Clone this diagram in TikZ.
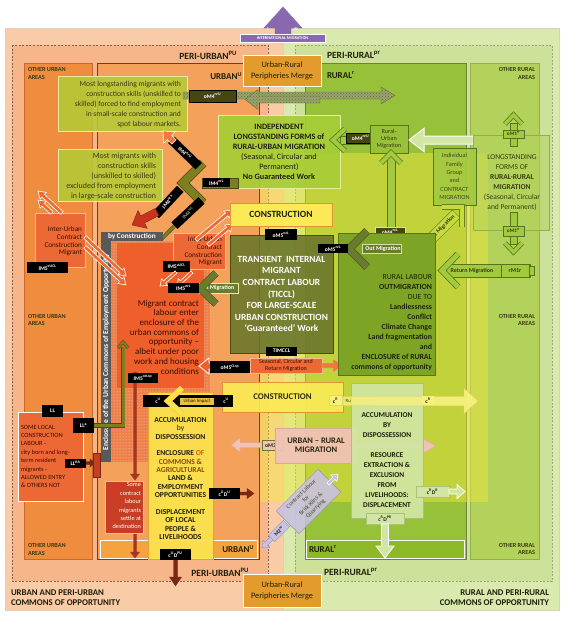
\documentclass[tikz,border=0pt]{standalone}
\usepackage{fontspec}
\setmainfont{Carlito}
\usetikzlibrary{patterns}
\definecolor{cOutU}{HTML}{F9CCA7}
\definecolor{cOutR}{HTML}{DAE9AE}
\definecolor{cEdge}{HTML}{D8D0C8}
\definecolor{cPeriU}{HTML}{F6B68A}
\definecolor{cPeriR}{HTML}{CDE19A}
\definecolor{cBrD}{HTML}{8A6048}
\definecolor{cGrD}{HTML}{98A878}
\definecolor{cOthU}{HTML}{EF8C3E}
\definecolor{cOthUd}{HTML}{C8682A}
\definecolor{cUrb}{HTML}{F4A15C}
\definecolor{cUrbD}{HTML}{5A4538}
\definecolor{cUrbB}{HTML}{F5A33E}
\definecolor{cRur}{HTML}{98C13A}
\definecolor{cRurD}{HTML}{6A8430}
\definecolor{cRurB}{HTML}{8DB828}
\definecolor{cOthR}{HTML}{B3D25C}
\definecolor{cOthRd}{HTML}{93B048}
\definecolor{cYov}{HTML}{F4E83A}
\definecolor{cGB}{HTML}{B6CA36}
\definecolor{cGBd}{HTML}{E4EE9C}
\definecolor{cIndep}{HTML}{A6CD36}
\definecolor{cTxtG}{HTML}{3A3A12}
\definecolor{cTxtD}{HTML}{1E1E0A}
\definecolor{cDark}{HTML}{46460F}
\definecolor{cHat}{HTML}{98A26A}
\definecolor{cHatD}{HTML}{687240}
\definecolor{cOlive}{HTML}{7C7E20}
\definecolor{cOliveD}{HTML}{4A4C10}
\definecolor{cOlive3}{HTML}{6A7A2E}
\definecolor{cTic}{HTML}{6B772C}
\definecolor{cCons}{HTML}{FBEA55}
\definecolor{cConsD}{HTML}{E39235}
\definecolor{cRed}{HTML}{EE5F2C}
\definecolor{cTxtR}{HTML}{3A0E00}
\definecolor{cOrB}{HTML}{EC6935}
\definecolor{cOrBd}{HTML}{F8B898}
\definecolor{cOrHd}{HTML}{F07838}
\definecolor{cRedHd}{HTML}{C83420}
\definecolor{cDR}{HTML}{7A2810}
\definecolor{cDR2}{HTML}{A83520}
\definecolor{cBar}{HTML}{C83E24}
\definecolor{cYel}{HTML}{FBE24C}
\definecolor{cYelD}{HTML}{E8A033}
\definecolor{cYelS}{HTML}{E8C040}
\definecolor{cOrT}{HTML}{D06010}
\definecolor{cBrT}{HTML}{8A4A10}
\definecolor{cRG}{HTML}{7DA424}
\definecolor{cRGd}{HTML}{56741A}
\definecolor{cRGt}{HTML}{1E2406}
\definecolor{cPink}{HTML}{F0C3B5}
\definecolor{cPinkD}{HTML}{D8A898}
\definecolor{cLG}{HTML}{D2E5A4}
\definecolor{cLGd}{HTML}{A8C27A}
\definecolor{cLav}{HTML}{C9C2E0}
\definecolor{cLavD}{HTML}{9890B8}
\definecolor{cPurp}{HTML}{8868AE}
\definecolor{cMerge}{HTML}{E39B2E}
\definecolor{cGray}{HTML}{5A5858}
\definecolor{cDot}{HTML}{F08048}
\definecolor{cDotC}{HTML}{C8DCF0}
\definecolor{cYG}{HTML}{C6DC42}
\definecolor{cYGd}{HTML}{6C7E22}
\definecolor{cLY}{HTML}{F6F07C}
\definecolor{cLYd}{HTML}{E0D860}
\definecolor{cRM}{HTML}{A2CA40}
\newcommand{\spx}[1]{\textsuperscript{#1}}
\newcommand{\fs}[2]{\fontsize{#1}{#2}\selectfont}
% block arrow: [style]{x1}{y1}{x2}{y2}{shaft half}{head half}{head length}
\newcommand{\barrow}[8][]{%
  \pgfmathsetmacro\bdx{#4-#2}%
  \pgfmathsetmacro\bndy{#3-#5}%
  \pgfmathsetmacro\blen{veclen(\bdx,\bndy)}%
  \pgfmathsetmacro\bang{atan2(\bndy,\bdx)}%
  \pgfmathsetmacro\bhb{\blen-#8}%
  \begin{scope}[shift={(#2,#3)},rotate=\bang]
    \draw[#1] (0,-#6) -- ({\bhb},-#6) -- ({\bhb},-#7) -- ({\blen},0) -- ({\bhb},#7) -- ({\bhb},#6) -- (0,#6) -- cycle;
  \end{scope}}
% chevron head: {fill}{outline}{w}{outer w}{p1}{tip}{p2}
\newcommand{\chev}[7]{%
  \draw[#2,line width=#4,line join=miter] #5 -- #6 -- #7;
  \draw[#1,line width=#3,line join=miter] #5 -- #6 -- #7;}
\tikzset{
  box/.style={inner sep=0pt,outer sep=0pt},
  tx/.style={inner sep=0pt,outer sep=0pt},
  blk/.style={fill=black,text=white,inner sep=0pt,outer sep=0pt,font=\fs{5.6}{6}\bfseries},
  area/.style={tx,align=left,font=\fs{6.2}{7.5}\bfseries,text=cTxtG},
  hollowO/.style={fill=cOrB,draw=white,line width=0.6pt},
  hatchA/.style={fill=cHat,draw=cHatD},
  hatchP/.style={pattern=crosshatch dots,pattern color=cHatD,draw=none},
}
\begin{document}
\begin{tikzpicture}[x=1pt,y=-1pt]
\useasboundingbox (0,0) rectangle (566,629);
\fill[white] (0,0) rectangle (566,629);
%--- regions
\filldraw[fill=cOutU,draw=cEdge] (5,28) rectangle (283,610);
\filldraw[fill=cOutR,draw=cEdge] (283,28) rectangle (559,610);
\filldraw[fill=cPeriU,draw=cBrD,dash pattern=on 2pt off 1.5pt] (12,45) rectangle (268,581);
\filldraw[fill=cPeriR,draw=cGrD,dash pattern=on 2pt off 1.5pt] (295,45) rectangle (552,581);
\filldraw[fill=cOthU,draw=cOthUd] (24,63) rectangle (92,559);
\filldraw[fill=cUrb,draw=cUrbD,line width=0.8pt] (97,63) rectangle (259,559);
\filldraw[fill=cRur,draw=cRurD] (305,63) rectangle (466,559);
\filldraw[fill=cOthR,draw=cOthRd] (470,63) rectangle (539,559);
\fill[cYov,opacity=0.45] (259,153) rectangle (488,502);
\draw[cUrbD,line width=0.8pt] (259,63) -- (259,559);
\filldraw[fill=cUrbB,draw=white,line width=0.8pt] (100,540) rectangle (257,558);
\filldraw[fill=cRurB,draw=white,line width=0.8pt] (306,540) rectangle (464,558);
%--- region labels
\node[tx,anchor=east,font=\fs{9.5}{10}\bfseries,text=cTxtD] (lpu) at (237,55) {PERI-URBAN\spx{PU}};
\node[tx,anchor=east,font=\fs{9}{10}\bfseries,text=cTxtD] (lu) at (242,76) {URBAN\spx{U}};
\node[tx,anchor=west,font=\fs{9.5}{10}\bfseries,text=cTxtD] (lpr) at (327,55) {PERI-RURAL\spx{pr}};
\node[tx,anchor=west,font=\fs{9}{10}\bfseries,text=cTxtD] (lr) at (327,75) {RURAL\spx{r}};
\node[tx,anchor=east,font=\fs{9}{10}\bfseries,text=cTxtD] (lu2) at (254,549) {URBAN\spx{U}};
\node[tx,anchor=west,font=\fs{9}{10}\bfseries,text=cTxtD] (lr2) at (309,549) {RURAL\spx{r}};
\node[tx,anchor=east,font=\fs{9.5}{10}\bfseries,text=cTxtD] (lpu2) at (249,572) {PERI-URBAN\spx{PU}};
\node[tx,anchor=west,font=\fs{9.5}{10}\bfseries,text=cTxtD] (lpr2) at (324,572) {PERI-RURAL\spx{pr}};
\node[tx,anchor=west,align=left,font=\fs{8.8}{10}\bfseries,text=cTxtD] (cu) at (11,598) {URBAN AND PERI-URBAN\\COMMONS OF OPPORTUNITY};
\node[tx,anchor=east,align=right,font=\fs{8.8}{10}\bfseries,text=cTxtD] (cr) at (549,598) {RURAL AND PERI-RURAL\\COMMONS OF OPPORTUNITY};
\node[area,anchor=west] (ou1) at (28,73.5) {OTHER URBAN\\AREAS};
\node[area,anchor=west] (ou2) at (28,320) {OTHER URBAN\\AREAS};
\node[area,anchor=west] (ou3) at (28,549.5) {OTHER URBAN\\AREAS};
\node[area,anchor=east,align=right] (or1) at (535,73.5) {OTHER RURAL\\AREAS};
\node[area,anchor=east,align=right] (or2) at (535,320) {OTHER RURAL\\AREAS};
\node[area,anchor=east,align=right] (or3) at (535,549) {OTHER RURAL\\AREAS};
%--- international migration
\barrow[fill=cPurp,draw=cPurp]{283}{36}{283}{7}{8}{19}{21}
\node[box,fill=cPurp,draw=white,line width=0.5pt,minimum width=85,minimum height=8,text=white,font=\fs{4.3}{5}\bfseries] (intl) at (282.5,38.5) {INTERNATIONAL MIGRATION};
\node[tx,text=white,font=\fs{4.5}{5}\bfseries] (ii) at (268,29) {I};
\node[tx,text=white,font=\fs{4.5}{5}\bfseries] (nn) at (296,29) {N};
%--- green boxes top left
\node[box,fill=cGB,fill opacity=0.88,draw=cGBd,minimum width=129,minimum height=55] (g1) at (122.5,103.5) {};
\node[tx,anchor=east,align=right,font=\fs{7.6}{10},text=cTxtG] (g1t) at (181,104) {Most longstanding migrants with\\construction skills (unskilled to\\skilled) forced to find employment\\in small-scale construction and\\spot labour markets.};
\node[box,fill=cGB,fill opacity=0.88,draw=cGBd,minimum width=104,minimum height=52] (g2) at (110,175) {};
\node[tx,anchor=east,align=right,font=\fs{8}{9.8},text=cTxtG] (g2t) at (156,176.5) {Most migrants with\\construction skills\\(unskilled to skilled)\\excluded from employment\\in large-scale construction};
%--- double big hatched arrow
\barrow[hatchA]{183}{95.5}{395}{95.5}{3.5}{8.5}{14}
\barrow[hatchP]{183}{95.5}{395}{95.5}{3.5}{8.5}{14}
\barrow[hatchA]{320}{99.5}{245}{99.5}{3.5}{10}{13}
\barrow[hatchP]{320}{99.5}{245}{99.5}{3.5}{10}{13}
\node[blk,fill=cDark,draw=black,minimum width=47,minimum height=12] (om4u) at (212.5,96) {oM4\spx{nrU}};
%--- independent box
\node[box,fill=cIndep,fill opacity=0.92,draw=cGBd,minimum width=122,minimum height=73] (indep) at (279,151.5) {};
\node[tx,align=center,font=\fs{8.2}{10}\bfseries,text=cTxtD] (indept) at (279,152) {INDEPENDENT\\LONGSTANDING FORMS of\\RURAL-URBAN MIGRATION\\{\mdseries (Seasonal, Circular and}\\{\mdseries Permanent)}\\No Guaranteed Work};
%--- IM4 arrow and rods
\fill[cOlive,draw=cOliveD] (202,178) rectangle (238,188);
\chev{cOlive}{cOliveD}{8}{9.5}{(203,163)}{(183,183)}{(203,203)}
\node[blk,minimum width=27,minimum height=9] (im4l) at (216.5,182.5) {IM4\spx{nrL}};
\barrow[fill=cOlive,draw=cOliveD,line width=0.4pt]{200}{200}{138}{263}{1.6}{6}{10}
\node[blk,rotate=-44,minimum width=38,minimum height=9] (rodA) at (185,153) {IM4\spx{nrU}};
\barrow[fill=cOrHd,draw=white,line width=0.6pt]{174}{142}{163}{131}{3}{8}{9}
\node[blk,rotate=47,minimum width=36,minimum height=9] (rodB) at (168,202) {IM4\spx{nrx}};
\barrow[fill=cRedHd,draw=cDR]{157}{212}{132}{225}{4}{10}{12}
\node[blk,rotate=43,minimum width=37,minimum height=9,text=cHat] (rodC) at (188,213) {IM4\spx{nrL}};
%--- dotted enclosure area, strip, header
\fill[cDot] (111,241) rectangle (210,462);
\fill[pattern=dots,pattern color=cDotC] (111,241) rectangle (210,462);
\node[box,fill=cGray,minimum width=10,minimum height=221,anchor=north west] (strip) at (101,241) {};
\node[tx,rotate=90,text=white,font=\fs{7.6}{8}\bfseries] (stript) at (106,352) {Enclosure of the Urban Commons of Employment Opportunity};
\node[box,fill=cGray,minimum width=62,minimum height=9,anchor=north west] (bycons) at (101,232) {};
\node[tx,anchor=west,text=white,font=\fs{7.3}{8}\bfseries] (byconst) at (108,236.5) {by Construction};
%--- migrant contract box
\node[box,fill=cRed,minimum width=87,minimum height=145] (mig) at (160.5,315.5) {};
\node[tx,anchor=east,align=right,font=\fs{9}{9.7},text=cTxtR] (migt) at (199,337) {Migrant contract\\labour enter\\enclosure of the\\urban commons of\\opportunity --\\albeit under poor\\work and housing\\conditions};
%--- inter-urban
\node[box,fill=cOrB,draw=cOrBd,minimum width=50,minimum height=54] (inter) at (60,240) {};
\node[tx,anchor=east,align=right,font=\fs{7.2}{7.6},text=cTxtR] (intert) at (82,241.5) {Inter-Urban\\Contract\\Construction\\Migrant};
\node[blk,minimum width=41,minimum height=11] (im5e) at (47.5,267.5) {IM5\spx{eUCL}};
\barrow[hollowO]{62}{213}{38}{191}{1.8}{4.5}{7}
\barrow[hollowO]{52}{213}{38}{200}{1.8}{4.5}{7}
\barrow[hollowO]{85}{237}{126}{276}{1.8}{4.5}{7}
\barrow[hollowO]{85}{247}{126}{285}{1.8}{4.5}{7}
%--- intra-urban
\node[box,fill=cOrB,draw=cOrBd,minimum width=52,minimum height=36] (intra) at (199,251) {};
\node[tx,anchor=east,align=right,font=\fs{7.2}{7.6},text=cTxtR] (intrat) at (222,251.5) {Intra-Urban\\Contract\\Construction\\Migrant};
\barrow[hollowO]{196}{240}{232}{210}{1.8}{4.5}{7}
\barrow[hollowO]{208}{245}{233}{224}{1.8}{4.5}{7}
\node[blk,minimum width=27,minimum height=11] (im5a) at (176.5,266) {IM5\spx{aUCL}};
\barrow[hollowO]{176}{272}{160}{286}{1.5}{4.5}{6}
\barrow[hollowO]{192}{272}{177}{286}{1.5}{4.5}{6}
%--- construction top
\node[box,fill=cCons,draw=cConsD,minimum width=102,minimum height=23,font=\fs{9.5}{10}\bfseries,text=cTxtD] (cons1) at (281,214.5) {CONSTRUCTION};
%--- TICCL
\node[box,fill=cTic,fill opacity=0.9,draw=cOliveD,minimum width=103,minimum height=118] (ticcl) at (281.5,294) {};
\node[tx,align=center,font=\fs{9.4}{11.6}\bfseries,text=white] (ticclt) at (281.5,294) {TRANSIENT\ \ INTERNAL\\MIGRANT\\CONTRACT LABOUR\\(TICCL)\\FOR LARGE-SCALE\\URBAN CONSTRUCTION\\‘Guaranteed’ Work};
\node[blk,minimum width=32,minimum height=11] (om5n) at (281,234.5) {oM5\spx{ncL}};
\node[blk,minimum width=31,minimum height=9] (timccl) at (281.5,351) {TIMCCL};
%--- In migration
\fill[cOlive3,draw=cGBd,line width=0.4pt] (199,283.5) rectangle (238,293);
\node[tx,text=white,font=\fs{6}{6}\bfseries] (inmt) at (219,288.3) {In Migration};
\chev{cOlive3}{cOliveD}{6.5}{7.5}{(216,273)}{(200,288.5)}{(216,304)}
\node[blk,minimum width=31,minimum height=10] (im5n) at (183.5,287.5) {IM5\spx{nrL}};
%--- seasonal arrow
\node[box,fill=cOrB,draw=cOrBd,minimum width=72,minimum height=15,align=center,font=\fs{6}{6.4},text=cTxtR] (seas) at (286,365.5) {Seasonal, Circular and\\Return Migration};
\barrow[fill=cOrHd,draw=cOrBd,line width=0.4pt]{322}{365.5}{343}{365.5}{2.5}{7}{10}
\barrow[fill=cRed,draw=white,line width=0.8pt]{216}{366}{199}{366}{3}{8}{10}
\node[blk,minimum width=40,minimum height=12] (om5c) at (230,367) {oM5\spx{CLsp}};
%--- construction 2
\node[box,fill=cCons,fill opacity=0.92,draw=cConsD,minimum width=121,minimum height=30,font=\fs{8.8}{10}\bfseries,text=cTxtD] (cons2) at (282.5,397) {CONSTRUCTION};
%--- yellow accumulation box (urban)
\node[box,fill=cYel,fill opacity=0.94,draw=cYelD,minimum width=65,minimum height=167] (accu) at (180.5,475.5) {};
\node[tx,align=center,font=\fs{7.6}{8.36}\bfseries,text=cTxtD] (accut) at (180.5,478.5) {ACCUMULATION\\{\mdseries by}\\DISPOSSESSION\\[8.36pt]ENCLOSURE {\color{cOrT}OF}\\{\color{cBrT}COMMONS \&}\\{\color{cBrT}AGRICULTURAL}\\LAND \&\\EMPLOYMENT\\OPPORTUNITIES\\[8.36pt]DISPLACEMENT\\OF LOCAL\\PEOPLE \&\\LIVELIHOODS};
%--- urban impact
\node[box,fill=black,minimum width=90,minimum height=12] (uimp) at (188,401) {};
\fill[cYelS] (180,397.5) rectangle (214,404.5);
\node[tx,font=\fs{4.8}{5},text=cTxtR] (uimpt) at (197,401) {Urban Impact};
\chev{cYel}{cYelS}{5}{6}{(182,388)}{(168,401)}{(182,414)}
\node[tx,text=white,font=\fs{5.6}{6}\bfseries] (cu1) at (158,401) {c\spx{U}};
\node[tx,text=white,font=\fs{5.6}{6}\bfseries] (cu2) at (226,401) {c\spx{U}};
%--- cUDU boxes
\node[blk,minimum width=31,minimum height=11] (cudu) at (224.5,493.5) {c\spx{U}D\spx{U}};
\barrow[fill=cDR,draw=cDR]{240}{493.5}{254}{493.5}{1.5}{5}{7}
\node[blk,minimum width=31,minimum height=11] (cudpu) at (175.5,554.5) {c\spx{U}D\spx{PU}};
\barrow[fill=cDR,draw=cDR]{175.5}{560}{175.5}{586}{2}{6}{9}
%--- settle
\barrow[fill=cDR2,draw=cDR2]{135}{372}{135}{480}{1.3}{4.5}{6}
\barrow[fill=cDR2,draw=cDR2]{135}{533}{135}{558}{1.3}{4.5}{6}
\node[blk,minimum width=30,minimum height=10] (im5sp) at (143,378) {IM5\spx{nrLsp}};
\node[box,fill=cBar,draw=cOrBd,minimum width=38,minimum height=52] (settle) at (124,507) {};
\node[tx,anchor=east,align=right,font=\fs{6.2}{8.4},text=white] (settlet) at (141,506) {Some\\contract\\labour\\migrants\\settle at\\destination};
%--- local labour
\node[box,fill=cOrB,draw=white,line width=0.6pt,minimum width=65,minimum height=89] (local) at (50.5,456.5) {};
\node[tx,anchor=west,align=left,font=\fs{6.4}{8.4},text=cTxtR] (localt) at (21,456.5) {SOME LOCAL\\CONSTRUCTION\\LABOUR -\\city born and long-\\term resident\\migrants -\\ALLOWED ENTRY\\\& OTHERS NOT};
\node[blk,minimum width=21,minimum height=12] (ll) at (52.5,411) {LL};
\draw[cOliveD,line width=4.5pt] (94,425.5) -| (123,347);
\draw[cOlive,line width=3pt] (94,425.5) -| (123,347);
\chev{cOlive}{cOliveD}{2}{3}{(118,348)}{(123,342)}{(128,348)}
\node[blk,minimum width=21,minimum height=15] (lla) at (83.5,425.5) {LL\spx{a}};
\barrow[fill=cDR,draw=cDR]{86}{463}{95}{463}{1.5}{4}{5}
\filldraw[fill=cBar,draw=cDR] (93,453) rectangle (100,477);
\node[blk,minimum width=21,minimum height=9] (llra) at (75.5,463) {LL\spx{RA}};
%--- right: oM4 into independent
\fill[cRM,draw=cRGd,line width=0.4pt] (340,136) rectangle (372,144);
\chev{cRM}{cRGd}{4}{5.5}{(345,129)}{(333,140)}{(345,151)}
\node[blk,fill=cDark,draw=black,minimum width=29,minimum height=10] (om4r) at (360.5,138) {oM4\spx{nrU}};
\node[box,fill=cRur,draw=cRGd,minimum width=38,minimum height=28,align=center,font=\fs{6.2}{7},text=cTxtG] (rum) at (389,139) {Rural-\\Urban\\Migration};
\barrow[fill=cLG,draw=white,line width=1pt]{473}{140}{409}{140}{4}{11.5}{15}
%--- up arrow from rural outmigration
\fill[cRM,draw=cRGd,line width=0.4pt] (387,156) rectangle (395,229);
\chev{cRM}{cRGd}{4}{5.5}{(381,163)}{(391,153)}{(401,163)}
\node[blk,fill=cDark,draw=cLG,minimum width=30,minimum height=10] (om4l) at (390,232) {oM4\spx{nrL}};
%--- rural-rural
\node[box,fill=cOthR,fill opacity=0.5,draw=cOthRd,minimum width=76,minimum height=95] (rr) at (511,182.5) {};
\node[tx,align=center,font=\fs{7.5}{10},text=cTxtG] (rrt) at (512,183) {LONGSTANDING\\FORMS OF\\\textbf{RURAL-RURAL}\\\textbf{MIGRATION}\\(Seasonal, Circular\\and Permanent)};
\fill[cRM,draw=cRGd,line width=0.4pt] (510,123) rectangle (517,146);
\chev{cRM}{cRGd}{3.5}{5}{(505,124)}{(513.5,115)}{(522,124)}
\node[box,fill=cRM,draw=cRGd,line width=0.4pt,minimum width=21,minimum height=8,font=\fs{5.2}{6}\bfseries,text=cTxtG] (om1a) at (513.5,134) {oM1\spx{rr}};
\fill[cRM,draw=cRGd,line width=0.4pt] (510,212) rectangle (517,244);
\chev{cRM}{cRGd}{3.5}{5}{(505,243)}{(513.5,252)}{(522,243)}
\node[box,fill=cRM,draw=cRGd,line width=0.4pt,minimum width=21,minimum height=10,font=\fs{5.2}{6}\bfseries,text=cTxtG] (om1b) at (513.5,231) {oM1\spx{rr}};
\node[box,fill=cRM,fill opacity=0.9,draw=cRGd,minimum width=43,minimum height=57,align=center,font=\fs{6.3}{8.4},text=cTxtG] (indiv) at (454.5,176.5) {Individual\\Family\\Group\\and\\CONTRACT\\MIGRATION};
%--- out migration diagonal
\node[box,fill=cYG,draw=cYGd,rotate=45,minimum width=74,minimum height=11] (om1r) at (430,240) {};
\node[tx,rotate=45,font=\fs{5.8}{6}\bfseries,text=cTxtG] (om1rt) at (414,256) {oM1r};
\node[tx,rotate=45,font=\fs{5.8}{6}\bfseries,text=cTxtG] (outmt) at (442,228) {Out Migration};
\chev{cYG}{cYGd}{4}{5.5}{(442,207)}{(462,207)}{(462,227)}
%--- rural outmigration box
\node[box,fill=cRG,draw=cRGd,minimum width=97,minimum height=142] (rout) at (386.5,304) {};
\node[tx,anchor=east,align=right,font=\fs{7.8}{10},text=cRGt] (routt) at (432,323) {RURAL LABOUR\\\textbf{OUTMIGRATION}\\DUE TO\\\textbf{Landlessness}\\\textbf{Conflict}\\\textbf{Climate Change}\\\textbf{Land fragmentation}\\\textbf{and}\\\textbf{ENCLOSURE of RURAL}\\\textbf{commons of opportunity}};
%--- out migration to TICCL
\fill[cOlive3,draw=cLG,line width=0.4pt] (362,244) rectangle (401,253);
\node[tx,text=white,font=\fs{6}{6}\bfseries] (outm2) at (383,248.5) {Out Migration};
\chev{cOlive3}{cOliveD}{7}{8}{(367,231)}{(349,249)}{(367,267)}
\node[blk,minimum width=30,minimum height=9] (om5r) at (333,248.5) {oM5\spx{nrL}};
%--- return migration
\fill[cRM,draw=cRGd,line width=0.4pt] (446,264) rectangle (530,277);
\node[tx,font=\fs{6}{6}\bfseries,text=cTxtG] (retm) at (472,270.5) {Return Migration};
\node[box,fill=cRM,draw=cRGd,line width=0.4pt,minimum width=28,minimum height=13,font=\fs{6}{6}\bfseries,text=cTxtG] (rm1r) at (515,270.5) {rM1r};
\fill[cRM,draw=cRGd,line width=0.4pt] (529,266) rectangle (534,275);
\chev{cRM}{cRGd}{5}{6.5}{(458,254)}{(442,270.5)}{(458,287)}
%--- rural impact (shaft)
\barrow[fill=cLY,fill opacity=0.8,draw=cLYd]{331}{401}{478}{401}{4.5}{12.5}{14}
\node[box,fill=cLY,draw=cLYd,minimum width=13,minimum height=10,font=\fs{5.6}{6}\bfseries,text=cTxtD] (cr1) at (335.5,400.5) {c\spx{R}};
\node[tx,font=\fs{4.8}{5},text=cTxtG] (rimpt) at (358,401) {Rural Impact};
%--- urban-rural migration
\barrow[fill=cPink,draw=cPinkD]{280}{445}{231}{445}{2.5}{7}{9}
\node[box,fill=cPink,draw=cOlive3,line width=0.5pt,minimum width=21,minimum height=10,font=\fs{5.6}{6}\bfseries,text=cTxtD] (om3) at (272.5,445) {oM3\spx{ur}};
\node[box,fill=cPink,fill opacity=0.95,draw=cPinkD,minimum width=82,minimum height=35,align=center,font=\fs{8.5}{9.5}\bfseries,text=cTxtD] (urm) at (316,445.5) {URBAN -- RURAL\\MIGRATION};
\barrow[fill=cPink,draw=cPinkD]{357}{446}{436}{446}{2.5}{8}{14}
%--- accumulation rural
\node[box,fill=cLG,fill opacity=0.92,draw=cLGd,minimum width=72,minimum height=135] (accr) at (387,450.5) {};
\node[tx,align=center,font=\fs{7.4}{10}\bfseries,text=cTxtD] (accrt) at (387,460) {ACCUMULATION\\BY\\DISPOSSESSION\\[10pt]RESOURCE\\EXTRACTION \&\\EXCLUSION\\FROM\\LIVELIHOODS:\\DISPLACEMENT};
\barrow[fill=cLY,fill opacity=0.8,draw=cLYd]{351}{401}{478}{401}{4.5}{12.5}{14}
\node[box,fill=cLY,minimum width=12,minimum height=9,font=\fs{5.6}{6}\bfseries,text=cTxtD] (cr2) at (428,400.5) {c\spx{R}};
\node[box,fill=cLG,draw=cLGd,minimum width=33,minimum height=11,font=\fs{5.6}{6}\bfseries,text=cTxtD] (crdr) at (432.5,491.5) {c\spx{R}D\spx{R}};
\barrow[fill=cLG,draw=white,line width=0.8pt]{449}{491.5}{465}{491.5}{2.5}{7}{8}
\node[box,fill=cLG,draw=cLGd,minimum width=38,minimum height=11,font=\fs{5.6}{6}\bfseries,text=cTxtD] (crdpr) at (385,518.5) {c\spx{R}D\spx{PR}};
\barrow[fill=cLG,draw=white,line width=0.8pt]{385}{524}{385}{558}{3.5}{9}{12}
%--- brick kilns
\node[box,fill=cLav,fill opacity=0.9,draw=cLavD,rotate=45,minimum width=59,minimum height=32,align=center,font=\fs{6}{6.8},text=cTxtG] (brick) at (308.5,501.5) {Contract Labour\\for\\Brick Kilns \&\\Quarrying};
\barrow[fill=cLav,draw=white,line width=0.6pt]{328}{484}{338}{474}{1.6}{4.5}{6}
\barrow[fill=cLav,draw=cLavD,line width=0.4pt]{274}{536}{262}{548}{2}{5}{6}
\node[box,fill=cLav,draw=cLavD,rotate=45,minimum width=21,minimum height=9,font=\fs{5.4}{6}\bfseries,text=cTxtD] (m2) at (279,531) {M2\spx{ur}};
%--- merge boxes
\node[box,fill=cMerge,draw=white,line width=0.8pt,minimum width=78,minimum height=31,align=center,font=\fs{8.3}{11},text=cTxtD] (merge1) at (282,70.5) {Urban-Rural\\Peripheries Merge};
\node[box,fill=cMerge,draw=white,line width=0.8pt,minimum width=78,minimum height=33,align=center,font=\fs{8.3}{11},text=cTxtD] (merge2) at (282,590.5) {Urban-Rural\\Peripheries Merge};
\end{tikzpicture}
\end{document}
